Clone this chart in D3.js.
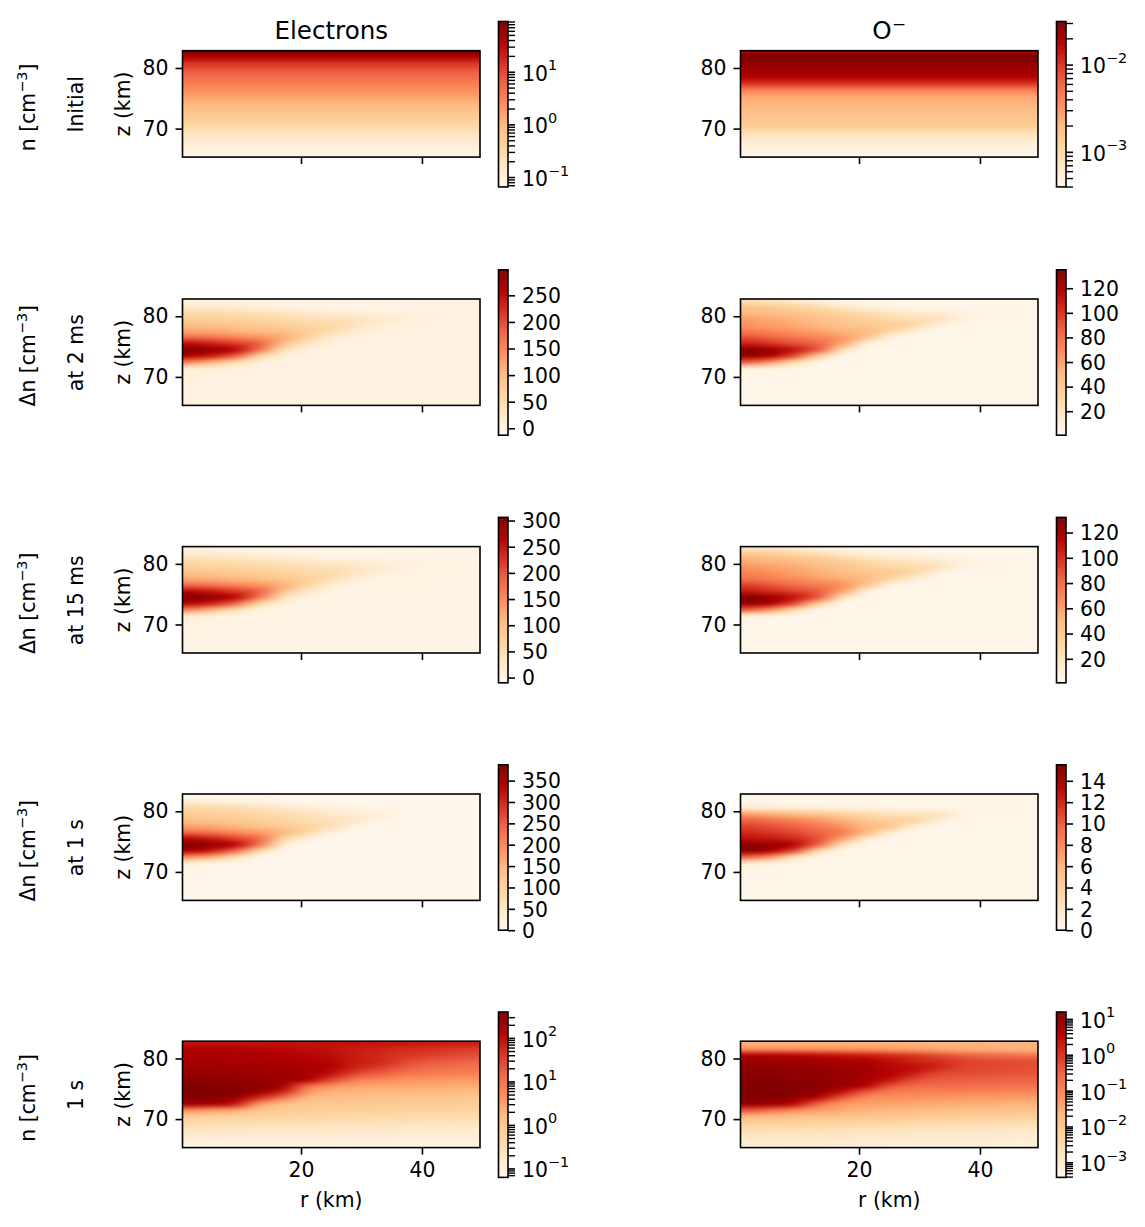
<!DOCTYPE html>
<html>
<head>
<meta charset="utf-8">
<script src="https://cdnjs.cloudflare.com/ajax/libs/d3/7.8.5/d3.min.js"></script>
<style>
  html, body { margin: 0; padding: 0; background: #fff; }
  svg { display: block; }
  text { font-family: "DejaVu Sans", sans-serif; fill: #000; }
</style>
</head>
<body>
<div id="figure"></div>
<script>
// Grid of the two-dimensional fields: radial stations (km) and altitude rows (km).
const rStations = [1, 5, 9, 13, 17, 21, 25, 29, 33, 37, 41, 45, 49];
const zRows = [82.5, 81.5, 80.5, 79.5, 78.5, 77.5, 76.5, 75.5, 74.5, 73.5, 72.5, 71.5, 70.5, 69.5, 68.5, 67.5, 66.5, 65.5];
// Altitude rows of the horizontally uniform initial profiles (km).
const zProfile = [82.75, 82.25, 81.75, 81.25, 80.75, 80.25, 79.75, 79.25, 78.75, 78.25, 77.75, 77.25, 76.75, 76.25, 75.75, 75.25, 74.75, 74.25, 73.75, 73.25, 72.75, 72.25, 71.75, 71.25, 70.75, 70.25, 69.75, 69.25, 68.75, 68.25, 67.75, 67.25, 66.75, 66.25, 65.75, 65.25];

// Initial densities (cm^-3), one value per altitude.
const electronsInitial = [85, 55, 34, 22, 13, 10.5, 8, 6.3, 5.4, 4.6, 3.8, 3.1, 2.6, 2.2, 1.9, 1.6, 1.35, 1.1, 0.95, 0.82, 0.7, 0.6, 0.51, 0.44, 0.36, 0.3, 0.24, 0.19, 0.16, 0.135, 0.118, 0.105, 0.095, 0.088, 0.08, 0.074];
const oMinusInitial = [0.017, 0.027, 0.031, 0.03, 0.025, 0.023, 0.022, 0.021, 0.0195, 0.016, 0.012, 0.0088, 0.006, 0.0041, 0.0031, 0.0026, 0.0024, 0.0022, 0.0021, 0.00195, 0.00185, 0.00175, 0.00165, 0.00155, 0.00145, 0.0013, 0.00105, 0.00085, 0.00072, 0.00062, 0.00054, 0.0005, 0.00047, 0.00045, 0.00043, 0.00042];

// Density changes and final densities: one row per altitude, one value per station.
// A short row keeps its last value out to the outermost station.
const electrons2ms = [
  [0],
  [20, 20, 14, 8, 2, -3, -6, -8, -8, -5, -2, 0],
  [55, 52, 48, 42, 34, 24, 14, 14, 6, 6, 3, 1, 0],
  [75, 72, 68, 62, 54, 46, 42, 34, 20, 8, 3, 1, 0],
  [100, 96, 90, 82, 72, 62, 55, 35, 10, 3, 1, 0],
  [125, 120, 112, 102, 92, 76, 50, 12, 2, 1, 0],
  [180, 170, 155, 140, 118, 65, 15, 2, 0],
  [250, 235, 215, 185, 100, 30, 2, 0],
  [296, 280, 255, 170, 45, 3, 0],
  [260, 240, 190, 70, 8, 0],
  [160, 120, 60, 8, 1, 0],
  [25, 15, 6, 1, 0],
  [4, 2, 1, 0],
  [0], [0], [0], [0], [0]
];
const oMinus2ms = [
  [25, 22, 15, 8, 4, 2, 1.5],
  [45, 42, 36, 28, 18, 10, 6, 4, 3, 2.5, 2, 2, 1.5],
  [52, 50, 46, 40, 34, 28, 20, 14, 14, 6, 4, 3, 2],
  [62, 58, 54, 48, 42, 36, 30, 26, 22, 7, 3, 2, 1.5],
  [66, 62, 58, 52, 46, 42, 38, 30, 8, 2, 1.5],
  [76, 72, 66, 60, 54, 50, 32, 10, 1.5],
  [92, 86, 78, 72, 64, 45, 8, 1.5],
  [108, 102, 92, 85, 60, 12, 1.5],
  [132, 126, 112, 90, 28, 2, 1.5],
  [128, 120, 95, 45, 4, 1.5],
  [90, 72, 35, 6, 2, 1.5],
  [15, 10, 5, 2, 1.5],
  [2.5, 2, 1.5],
  [1.5], [1.5], [1.5], [1.5], [1.5]
];
const electrons15ms = [
  [0],
  [25, 22, 16, 9, 3, -3, -6, -7, -7, -5, -2, 0],
  [55, 52, 48, 43, 35, 25, 15, 14, 7, 6, 3, 1, 0],
  [74, 71, 67, 62, 54, 46, 42, 32, 20, 8, 3, 1, 0],
  [98, 94, 88, 80, 70, 60, 54, 35, 10, 3, 1, 0],
  [125, 120, 112, 102, 90, 74, 50, 12, 2, 1, 0],
  [185, 175, 158, 142, 118, 65, 15, 2, 0],
  [260, 245, 222, 190, 100, 30, 2, 0],
  [304, 288, 262, 170, 45, 3, 0],
  [262, 242, 190, 70, 8, 0],
  [165, 122, 60, 8, 1, 0],
  [25, 15, 6, 1, 0],
  [4, 2, 1, 0],
  [0], [0], [0], [0], [0]
];
const oMinus15ms = [
  [22, 20, 14, 8, 4, 3, 2],
  [44, 42, 36, 30, 20, 12, 8, 5, 4, 3, 3, 2],
  [55, 52, 48, 42, 36, 30, 22, 18, 14, 7, 4, 3, 2],
  [64, 60, 56, 50, 44, 38, 32, 28, 22, 7, 3, 2],
  [70, 66, 60, 55, 48, 44, 40, 30, 8, 2],
  [78, 74, 68, 62, 56, 50, 32, 10, 2],
  [94, 88, 80, 74, 66, 44, 8, 2],
  [108, 102, 94, 86, 60, 12, 2],
  [130, 124, 110, 88, 28, 2],
  [126, 118, 94, 44, 4, 2],
  [88, 70, 34, 6, 2],
  [15, 10, 5, 2],
  [3, 2],
  [2], [2], [2], [2], [2]
];
const electrons1s = [
  [0],
  [35, 32, 24, 15, 7, 3, 2, 1, 1, 0],
  [90, 85, 78, 68, 52, 36, 22, 12, 9, 4, 1, 0],
  [110, 105, 98, 90, 76, 60, 46, 34, 24, 6, 1, 0],
  [135, 128, 118, 106, 92, 78, 62, 45, 12, 2, 0],
  [175, 165, 150, 132, 115, 95, 65, 15, 2, 0],
  [240, 225, 200, 180, 150, 85, 22, 2, 0],
  [330, 310, 275, 235, 100, 20, 2, 0],
  [385, 365, 335, 220, 35, 3, 0],
  [340, 315, 240, 90, 8, 0],
  [200, 165, 80, 10, 1, 0],
  [35, 20, 8, 1, 0],
  [5, 3, 2, 0],
  [0], [0], [0], [0], [0]
];
const oMinus1s = [
  [0.1],
  [0.15, 0.15, 0.15, 0.15, 0.15, 0.12, 0.1],
  [1.8, 1.7, 1.6, 1.4, 1.2, 0.9, 0.7, 0.5, 0.4, 0.3, 0.2, 0.2, 0.15],
  [7, 6.5, 5.8, 5, 4.2, 3.3, 2.6, 2.2, 2.5, 0.5, 0.3, 0.25, 0.2],
  [9.8, 9.2, 8.4, 7.4, 6.2, 5, 4, 4, 1.2, 0.25, 0.15, 0.12, 0.1],
  [11, 10.5, 9.8, 8.8, 7.6, 6, 5, 1.2, 0.2, 0.1],
  [12, 11.5, 10.8, 9.8, 8.6, 6, 1.6, 0.15, 0.1],
  [13, 12.6, 12, 10.5, 7, 2, 0.1],
  [15, 14.5, 13.5, 10, 3, 0.2, 0.1],
  [15, 14, 11, 3.5, 0.4, 0.1],
  [10, 8, 3, 0.5, 0.1],
  [2, 1.2, 0.5, 0.1],
  [0.2, 0.15, 0.1],
  [0.1], [0.1], [0.1], [0.1], [0.1]
];
const electronsFinal = [
  [85, 85, 85, 85, 85, 85, 85, 85, 80, 78, 72, 68, 65],
  [150, 150, 140, 130, 115, 100, 85, 70, 60, 50, 44, 38, 34],
  [150, 150, 148, 140, 130, 120, 100, 70, 52, 40, 32, 27, 24],
  [170, 170, 168, 165, 155, 140, 120, 70, 55, 28, 20, 17, 14],
  [200, 200, 195, 190, 175, 160, 125, 60, 35, 18, 13, 11, 10],
  [240, 235, 225, 215, 195, 170, 90, 28, 16, 10, 8, 7, 6.5],
  [300, 285, 265, 245, 210, 140, 30, 8, 6, 4.5, 4, 3.8, 3.6],
  [370, 350, 320, 280, 170, 14, 5, 3, 2.8, 2.7, 2.6, 2.5, 2.4],
  [392, 375, 340, 230, 60, 4, 2, 1.9, 1.8, 1.7, 1.6, 1.5, 1.4],
  [340, 310, 230, 50, 8, 1.8, 1.4, 1.25, 1.2, 1.15, 1.1, 1.05, 1],
  [220, 160, 80, 4, 1.4, 1, 0.95, 0.9, 0.85, 0.8, 0.78, 0.75, 0.72],
  [6, 4, 3, 1.1, 0.85, 0.75, 0.7, 0.65, 0.62, 0.6, 0.58, 0.56, 0.54],
  [0.8, 0.75, 0.68, 0.6, 0.55, 0.5, 0.46, 0.44, 0.42, 0.4, 0.39, 0.38, 0.37],
  [0.42, 0.4, 0.38, 0.36, 0.34, 0.32, 0.3, 0.29, 0.28, 0.27, 0.26, 0.25, 0.25],
  [0.24, 0.23, 0.22, 0.21, 0.2, 0.19, 0.19, 0.18, 0.18, 0.17, 0.17, 0.16, 0.16],
  [0.16, 0.155, 0.15, 0.15, 0.145, 0.14, 0.14, 0.135, 0.135, 0.13, 0.13, 0.13, 0.13],
  [0.11, 0.11, 0.11, 0.105, 0.105, 0.105, 0.1, 0.1, 0.1, 0.1, 0.1, 0.1, 0.1],
  [0.085, 0.085, 0.085, 0.085, 0.085, 0.08, 0.08, 0.08, 0.08, 0.08, 0.08, 0.08, 0.08]
];
const oMinusFinal = [
  [0.026, 0.026, 0.026, 0.026, 0.026, 0.026, 0.026, 0.026, 0.026, 0.025, 0.025, 0.024, 0.024],
  [0.09, 0.09, 0.09, 0.085, 0.08, 0.07, 0.06, 0.05, 0.04, 0.035, 0.03, 0.028, 0.026],
  [4.5, 4.2, 3.6, 3, 2.4, 1.8, 1.3, 0.9, 0.55, 0.35, 0.25, 0.2, 0.17],
  [8, 7.5, 7, 6.5, 5.5, 4.5, 3, 1.6, 1.2, 0.75, 0.6, 0.55, 0.5],
  [10, 9.5, 9, 8, 7, 6, 3.5, 3, 1.5, 0.7, 0.6, 0.55, 0.5],
  [11.5, 11, 10.5, 9.5, 8, 6, 4, 1.8, 0.6, 0.55, 0.5, 0.45, 0.42],
  [13, 12.5, 12, 10.5, 9, 6, 2.5, 0.6, 0.38, 0.35, 0.33, 0.3, 0.28],
  [14.5, 14, 13, 11, 8, 4, 0.5, 0.25, 0.23, 0.22, 0.2, 0.19, 0.18],
  [15.5, 15, 13.5, 10, 3, 0.4, 0.14, 0.12, 0.11, 0.11, 0.1, 0.09, 0.09],
  [14, 13, 9, 3.5, 0.4, 0.08, 0.07, 0.065, 0.06, 0.055, 0.05, 0.05, 0.045],
  [9, 7, 3.5, 0.3, 0.06, 0.045, 0.04, 0.035, 0.032, 0.03, 0.028, 0.025, 0.024],
  [0.5, 0.3, 0.1, 0.05, 0.035, 0.025, 0.022, 0.02, 0.018, 0.016, 0.015, 0.014, 0.013],
  [0.025, 0.022, 0.018, 0.016, 0.014, 0.013, 0.012, 0.011, 0.0095, 0.0085, 0.008, 0.0075, 0.007],
  [0.008, 0.0075, 0.007, 0.0065, 0.006, 0.0055, 0.005, 0.0045, 0.004, 0.0038, 0.0036, 0.0034, 0.0032],
  [0.0034, 0.0032, 0.003, 0.0028, 0.0026, 0.0024, 0.0022, 0.002, 0.0019, 0.0018, 0.0017, 0.0016, 0.0015],
  [0.0019, 0.0018, 0.0018, 0.0017, 0.0016, 0.0015, 0.0015, 0.0014, 0.0013, 0.0013, 0.0012, 0.0012, 0.0011],
  [0.0012, 0.0012, 0.0011, 0.0011, 0.0011, 0.001, 0.001, 0.00098, 0.00095, 0.00092, 0.0009, 0.00088, 0.00085],
  [0.0008, 0.0008, 0.00078, 0.00076, 0.00075, 0.00074, 0.00072, 0.0007, 0.0007, 0.00068, 0.00068, 0.00066, 0.00065]
];

// Colour ranges and tick labels of the colour bars.
const columnTitles = ["Electrons", "O"];
const quantityLabels = ["n [cm", "Δn [cm", "Δn [cm", "Δn [cm", "n [cm"];
const timeLabels = ["Initial", "at 2 ms", "at 15 ms", "at 1 s", "1 s"];
const electronRanges = [[0.065, 90], [-13, 298], [-10, 306], [0, 387], [0.0622, 394]];
const oMinusRanges = [[0.000396, 0.0312], [0.5, 135], [1, 132], [0, 15.5], [0.00038, 15.6]];
const electronTicks = [[0.1, 1, 10], [0, 50, 100, 150, 200, 250], [0, 50, 100, 150, 200, 250, 300], [0, 50, 100, 150, 200, 250, 300, 350], [0.1, 1, 10, 100]];
const oMinusTicks = [[0.001, 0.01], [20, 40, 60, 80, 100, 120], [20, 40, 60, 80, 100, 120], [0, 2, 4, 6, 8, 10, 12, 14], [0.001, 0.01, 0.1, 1, 10]];
const zTicks = [70, 80];
const rTicks = [20, 40];

const electronFields = [electronsInitial, electrons2ms, electrons15ms, electrons1s, electronsFinal];
const oMinusFields = [oMinusInitial, oMinus2ms, oMinus15ms, oMinus1s, oMinusFinal];

// Figure geometry.
const W = 1145, H = 1227;
const fontSize = 20.4, titleSize = 24.6, supSize = 14.4;
const rowTops = [50.7, 299, 546.6, 794, 1041.2];
const panelHeight = 106.4;
const columnLefts = [182.5, 740.5];
const panelWidth = 297.5;
const barOffset = 316, barWidth = 9.5;
const barPad = 29.2;
const rDomain = [0.4, 49.6];
const zDomain = [65.3, 82.85];

const ramp = d3.piecewise(d3.interpolateRgb, d3.schemeOrRd[9]);
const isLog = row => row === 0 || row === 4;

const svg = d3.select("#figure").append("svg").attr("width", W).attr("height", H).attr("viewBox", [0, 0, W, H]);

function styleAxis(g, width) {
  g.select(".domain").remove();
  g.selectAll("line").attr("stroke", "#000").attr("stroke-width", width);
  g.selectAll("text").attr("font-size", fontSize).attr("font-family", '"DejaVu Sans", sans-serif');
}

// Paints a value matrix into an image scaled to the panel, smoothing between cells.
function fieldImage(field, norm, x, y) {
  const profile = typeof field[0] === "number";
  const rows = profile ? zProfile : zRows;
  const stations = profile ? [rStations[0], rStations[rStations.length - 1]] : rStations;
  const src = document.createElement("canvas");
  src.width = stations.length;
  src.height = rows.length;
  const ctx = src.getContext("2d");
  rows.forEach((z, j) => {
    stations.forEach((r, i) => {
      const line = field[j];
      const value = profile ? line : line[Math.min(i, line.length - 1)];
      ctx.fillStyle = ramp(norm(value));
      ctx.fillRect(i, j, 1, 1);
    });
  });
  const out = document.createElement("canvas");
  out.width = Math.round(panelWidth);
  out.height = Math.round(panelHeight);
  const octx = out.getContext("2d");
  octx.imageSmoothingEnabled = true;
  octx.imageSmoothingQuality = "high";
  const zStep = Math.abs(rows[1] - rows[0]);
  const rStep = stations[1] - stations[0];
  const kx = out.width / panelWidth, ky = out.height / panelHeight;
  const x0 = (x(stations[0] - rStep / 2) - x.range()[0]) * kx;
  const x1 = (x(stations[stations.length - 1] + rStep / 2) - x.range()[0]) * kx;
  const y0 = (y(rows[0] + zStep / 2) - y.range()[1]) * ky;
  const y1 = (y(rows[rows.length - 1] - zStep / 2) - y.range()[1]) * ky;
  octx.drawImage(src, x0, y0, x1 - x0, y1 - y0);
  return out.toDataURL();
}

function drawPanel(column, row, field, range, ticks) {
  const left = columnLefts[column], top = rowTops[row];
  const x = d3.scaleLinear().domain(rDomain).range([left, left + panelWidth]);
  const y = d3.scaleLinear().domain(zDomain).range([top + panelHeight, top]);
  const log = isLog(row);
  const norm = (log ? d3.scaleLog() : d3.scaleLinear()).domain(range).range([0, 1]).clamp(true);

  const g = svg.append("g").attr("class", "panel");
  g.append("image")
    .attr("x", left).attr("y", top)
    .attr("width", panelWidth).attr("height", panelHeight)
    .attr("preserveAspectRatio", "none")
    .attr("href", fieldImage(field, norm, x, y));
  g.append("rect")
    .attr("x", left).attr("y", top)
    .attr("width", panelWidth).attr("height", panelHeight)
    .attr("fill", "none").attr("stroke", "#000").attr("stroke-width", 1.6);

  g.append("g")
    .attr("transform", `translate(${left},0)`)
    .call(d3.axisLeft(y).tickValues(zTicks).tickSize(7).tickPadding(7).tickFormat(d3.format("d")))
    .call(a => styleAxis(a, 1.6));
  g.append("g")
    .attr("transform", `translate(0,${top + panelHeight})`)
    .call(d3.axisBottom(x).tickValues(rTicks).tickSize(7).tickPadding(7.5)
      .tickFormat(row === 4 ? d3.format("d") : ""))
    .call(a => styleAxis(a, 1.6));

  // Only the electron column names the altitude axis.
  if (column === 0) {
    g.append("text")
      .attr("transform", `translate(${left - 53},${top + panelHeight / 2}) rotate(-90)`)
      .attr("text-anchor", "middle").attr("font-size", fontSize).text("z (km)");
  }
  if (row === 4) {
    g.append("text")
      .attr("x", left + panelWidth / 2).attr("y", top + panelHeight + 59)
      .attr("text-anchor", "middle").attr("font-size", fontSize).text("r (km)");
  }

  // Colour bar
  const bx = left + barOffset;
  const by = (log ? d3.scaleLog() : d3.scaleLinear())
    .domain(range).range([top + panelHeight + barPad + 0.6, top - barPad]);
  const levels = d3.range(256);
  const cell = by.range()[0] - by.range()[1];
  g.append("g").selectAll("rect").data(levels).join("rect")
    .attr("x", bx).attr("width", barWidth)
    .attr("y", d => by.range()[0] - (d + 1) / 256 * cell)
    .attr("height", cell / 256 + 0.5)
    .attr("fill", d => ramp(d / 255));
  g.append("rect")
    .attr("x", bx).attr("y", by.range()[1])
    .attr("width", barWidth).attr("height", cell)
    .attr("fill", "none").attr("stroke", "#000").attr("stroke-width", 1.6);

  const barRight = bx + barWidth;
  if (log) {
    const minors = [];
    d3.range(Math.floor(Math.log10(range[0])), Math.ceil(Math.log10(range[1]))).forEach(e => {
      d3.range(2, 10).forEach(m => {
        const v = m * Math.pow(10, e);
        if (v >= range[0] && v <= range[1]) minors.push(v);
      });
    });
    g.append("g")
      .attr("transform", `translate(${barRight},0)`)
      .call(d3.axisRight(by).tickValues(minors).tickSize(7).tickFormat(""))
      .call(a => styleAxis(a, 1.4));
    g.append("g")
      .attr("transform", `translate(${barRight},0)`)
      .call(d3.axisRight(by).tickValues(ticks).tickSize(7).tickPadding(7).tickFormat(""))
      .call(a => styleAxis(a, 1.6))
      .call(a => a.selectAll(".tick text").each(function (d) {
        const t = d3.select(this).attr("dy", "0.41em");
        t.append("tspan").text("10");
        t.append("tspan").attr("font-size", supSize).attr("dy", "-0.72em")
          .text(String(Math.round(Math.log10(d))).replace("-", "−"));
      }));
  } else {
    g.append("g")
      .attr("transform", `translate(${barRight},0)`)
      .call(d3.axisRight(by).tickValues(ticks).tickSize(7).tickPadding(7).tickFormat(d3.format("d")))
      .call(a => styleAxis(a, 1.6))
      .call(a => a.selectAll(".tick text").attr("dy", "0.36em"));
  }
}

electronFields.forEach((f, row) => drawPanel(0, row, f, electronRanges[row], electronTicks[row]));
oMinusFields.forEach((f, row) => drawPanel(1, row, f, oMinusRanges[row], oMinusTicks[row]));

// Column titles
columnTitles.forEach((title, c) => {
  const t = svg.append("text")
    .attr("x", columnLefts[c] + panelWidth / 2).attr("y", 39)
    .attr("text-anchor", "middle").attr("font-size", titleSize).text(title);
  if (c === 1) {
    t.append("tspan").attr("font-size", 17.2).attr("dy", -9).text("−");
  }
});

// Row captions on the left
const rowLabels = svg.append("g");
rowTops.forEach((top, row) => {
  const cy = top + panelHeight / 2;
  const q = rowLabels.append("text")
    .attr("transform", `translate(35,${cy + 3.5}) rotate(-90)`)
    .attr("text-anchor", "middle").attr("font-size", fontSize);
  q.append("tspan").text(quantityLabels[row]);
  q.append("tspan").attr("font-size", supSize).attr("dy", -8).text("−3");
  q.append("tspan").attr("dy", 8).text("]");
  rowLabels.append("text")
    .attr("transform", `translate(83,${cy + 0.5}) rotate(-90)`)
    .attr("text-anchor", "middle").attr("font-size", fontSize).text(timeLabels[row]);
});
</script>
</body>
</html>
